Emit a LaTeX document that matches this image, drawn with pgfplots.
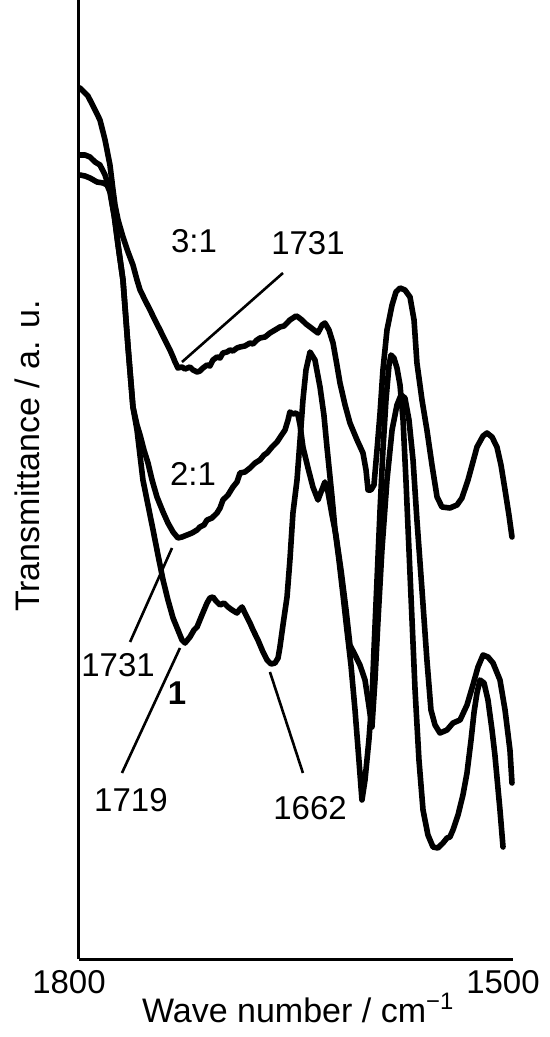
\documentclass[border=0pt]{standalone}
\usepackage{fontspec}
\setmainfont{Liberation Sans}
\usepackage{pgfplots}
\pgfplotsset{compat=1.18}

\newcommand{\lbl}{\fontsize{16.5}{19}\selectfont}

\begin{document}
\begin{tikzpicture}
\useasboundingbox (-39.5pt,-39pt) rectangle (235.5pt,479.5pt);
\begin{axis}[
    scale only axis, width=217pt, height=479.5pt,
    xmin=1500, xmax=1800, x dir=reverse,
    ymin=0, ymax=959,
    axis x line=bottom, axis y line=left,
    axis line style={-, line width=1.5pt},
    xtick={1500,1800}, xticklabels={1500,1800},
    ytick=\empty, major tick length=0pt,
    xticklabel style={font=\lbl, xshift=-5pt, yshift=-2pt},
    every axis x label/.style={at={(axis description cs:0.505,-0.051)}, anchor=center, font=\fontsize{17}{20}\selectfont},
    every axis y label/.style={at={(axis description cs:-0.12,0.5245)}, rotate=90, anchor=center, font=\fontsize{17}{20}\selectfont},
    xlabel={Wave number / cm\textsuperscript{−1}},
    ylabel={Transmittance / a. u.},
    clip=false,
    spec/.style={black, line width=2.8pt, line join=round, line cap=round, mark=none},
]
% 3:1
\addplot[spec] coordinates {
 (1799.3,871) (1793.8,863) (1788.9,849) (1785.5,839) (1782.0,819) (1778.6,794)
 (1776.5,769) (1775.1,754) (1773.0,739) (1769.6,722) (1766.1,707) (1762.7,694)
 (1759.9,679) (1757.8,669) (1754.4,659) (1750.9,649) (1747.5,639) (1744.0,629)
 (1740.6,619) (1737.1,609) (1735.0,602) (1733.6,597) (1731.6,591) (1728.8,592)
 (1726.7,590) (1723.3,592) (1721.2,589) (1718.4,587) (1716.4,588) (1714.3,591)
 (1711.5,594) (1709.5,593) (1707.4,599) (1704.6,602) (1702.5,601) (1700.5,606)
 (1697.7,607) (1695.6,609) (1693.6,608) (1690.8,611) (1688.7,612) (1685.3,613)
 (1681.8,616) (1679.7,615) (1677.0,619) (1674.9,621) (1671.4,622) (1668.0,626)
 (1664.5,629) (1661.1,632) (1658.3,633) (1656.2,636) (1654.2,639) (1652.1,641)
 (1650.0,643) (1648.6,642) (1645.9,639) (1643.1,635) (1640.3,632) (1637.6,629)
 (1634.8,626) (1632.0,634) (1630.0,636) (1627.2,629) (1624.4,616) (1621.7,594)
 (1619.6,576) (1616.1,554) (1612.7,536) (1607.8,519) (1603.7,506) (1601.6,489)
 (1600.2,469) (1598.2,469) (1596.1,474) (1594.0,509) (1591.9,546) (1589.9,589)
 (1587.1,629) (1583.6,654) (1580.9,667) (1578.1,671) (1574.7,669) (1571.2,662)
 (1568.4,639) (1566.4,596) (1562.9,559) (1559.5,529) (1556.0,494) (1552.5,462)
 (1549.1,452) (1543.6,451) (1538.7,454) (1535.3,461) (1531.1,479) (1527.7,497)
 (1524.9,512) (1520.7,523) (1518.0,526) (1514.5,522) (1511.1,512) (1508.3,494)
 (1505.5,469) (1502.8,444) (1500.7,422)};
% 2:1
\addplot[spec] coordinates {
 (1799.3,804) (1795.9,804) (1792.4,802) (1788.9,797) (1785.5,794) (1782.0,784)
 (1778.6,769) (1775.1,739) (1773.0,714) (1769.6,679) (1766.1,612) (1762.7,552)
 (1759.9,534) (1757.8,524) (1755.1,509) (1752.3,496) (1749.5,479) (1746.1,462)
 (1741.9,447) (1738.5,436) (1735.0,427) (1731.6,421) (1728.8,422) (1725.3,424)
 (1721.9,426) (1718.4,429) (1716.4,432) (1713.6,434) (1711.5,439) (1708.1,441)
 (1704.6,446) (1702.5,451) (1700.5,459) (1697.0,464) (1693.6,472) (1690.8,477)
 (1688.7,486) (1685.3,487) (1681.8,491) (1678.3,496) (1674.9,499) (1672.1,504)
 (1670.0,506) (1666.6,512) (1663.1,517) (1660.4,523) (1657.6,529) (1655.5,539)
 (1654.2,547) (1652.1,545) (1650.0,546) (1648.6,544) (1647.2,534) (1645.2,512)
 (1641.7,491) (1638.3,472) (1634.8,459) (1632.7,467) (1630.0,477) (1627.9,467)
 (1625.1,444) (1622.4,424) (1618.9,389) (1615.4,349) (1612.7,314) (1609.2,304)
 (1605.8,294) (1602.3,279) (1600.2,259) (1597.5,232) (1595.4,279) (1593.3,339)
 (1590.6,409) (1587.1,479) (1583.6,529) (1580.2,554) (1577.4,564) (1574.7,561)
 (1571.9,539) (1569.1,499) (1566.4,439) (1562.9,369) (1559.5,299) (1556.7,249)
 (1553.9,234) (1550.5,226) (1545.6,229) (1541.5,236) (1536.6,239) (1531.8,254)
 (1527.7,274) (1524.2,292) (1520.7,304) (1517.3,302) (1513.8,296) (1509.0,279)
 (1505.5,249) (1502.1,209) (1500.7,176)};
% 1
\addplot[spec] coordinates {
 (1799.3,784) (1795.9,783) (1792.4,781) (1787.6,777) (1783.4,776) (1780.6,774)
 (1778.6,767) (1775.8,744) (1773.0,714) (1769.6,679) (1766.1,612) (1762.7,552)
 (1759.9,529) (1755.8,479) (1752.3,454) (1748.8,429) (1745.4,404) (1741.9,379)
 (1738.5,359) (1735.0,341) (1731.6,329) (1728.8,319) (1726.7,316) (1723.3,322)
 (1720.5,329) (1718.4,332) (1715.0,344) (1711.5,356) (1709.5,361) (1707.4,362)
 (1705.3,358) (1702.5,354) (1699.8,356) (1697.0,352) (1694.2,349) (1690.8,346)
 (1688.7,350) (1687.3,352) (1684.6,344) (1681.8,336) (1679.7,329) (1676.3,319)
 (1672.8,307) (1670.0,299) (1667.3,295) (1664.5,296) (1662.4,301) (1661.1,312)
 (1659.0,334) (1656.2,362) (1654.2,399) (1652.1,446) (1649.3,479) (1647.2,519)
 (1645.2,559) (1643.1,589) (1640.3,607) (1636.9,599) (1633.4,572) (1630.7,544)
 (1628.6,512) (1625.1,462) (1623.0,429) (1620.3,399) (1617.5,364) (1614.8,329)
 (1612.0,294) (1609.2,249) (1606.5,199) (1604.4,159) (1602.3,179) (1599.6,219)
 (1597.5,259) (1596.1,309) (1594.0,379) (1591.9,449) (1589.9,509) (1587.8,559)
 (1585.7,594) (1584.3,604) (1582.3,601) (1580.2,591) (1578.1,574) (1576.0,539)
 (1574.0,479) (1571.9,409) (1569.8,339) (1567.7,269) (1565.0,199) (1562.2,149)
 (1558.8,124) (1555.3,112) (1551.9,111) (1548.4,116) (1545.6,121) (1543.6,122)
 (1541.5,129) (1538.0,144) (1534.6,164) (1531.8,186) (1529.0,219) (1526.9,247)
 (1524.9,266) (1522.8,279) (1520.0,276) (1517.3,259) (1514.5,229) (1512.5,204)
 (1511.1,182) (1509.0,149) (1506.9,112)};

% annotation lines
\draw[line width=1.3pt] (axis cs:1728.8,597) -- (axis cs:1659.0,686);
\draw[line width=1.3pt] (axis cs:1764.7,317) -- (axis cs:1735.7,411);
\draw[line width=1.3pt] (axis cs:1730.2,311) -- (axis cs:1770.3,186);
\draw[line width=1.3pt] (axis cs:1668.0,287) -- (axis cs:1645.2,186);

% annotation texts
\node[font=\lbl] at (axis cs:1720.5,718) {3:1};
\node[font=\lbl] at (axis cs:1641.7,716) {1731};
\node[font=\lbl] at (axis cs:1721.2,485) {2:1};
\node[font=\lbl] at (axis cs:1773.0,294) {1731};
\node[font=\lbl\bfseries] at (axis cs:1732.3,266) {1};
\node[font=\lbl] at (axis cs:1764.1,159) {1719};
\node[font=\lbl] at (axis cs:1640.3,151) {1662};
\end{axis}
\end{tikzpicture}
\end{document}
